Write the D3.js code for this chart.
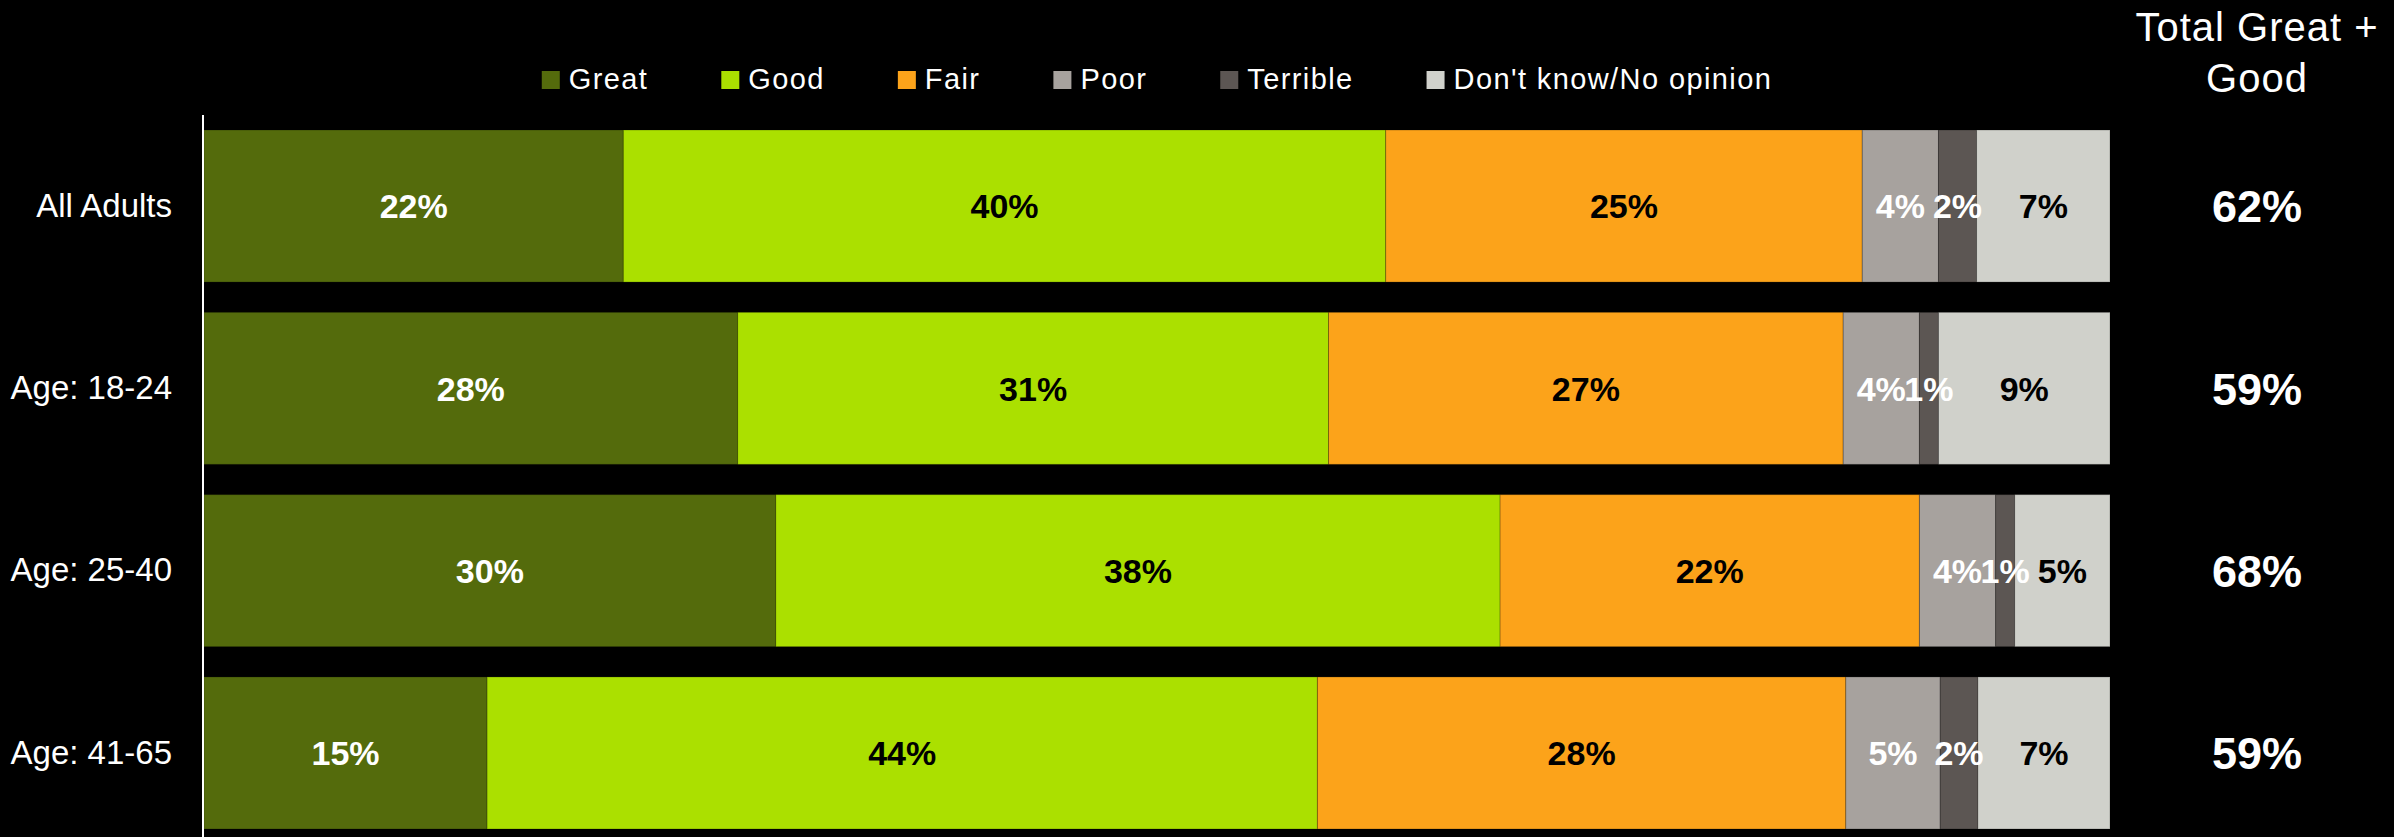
<!DOCTYPE html>
<html>
<head>
<meta charset="utf-8">
<script src="https://cdn.jsdelivr.net/npm/d3@7/dist/d3.min.js"></script>
<style>
  html, body { margin: 0; padding: 0; background: #000; }
  svg { display: block; }
  text { font-family: "Liberation Sans", Arial, sans-serif; }
</style>
</head>
<body>
<svg id="chart" width="2394" height="837"></svg>
<script>
// values (percent per group)
const groups   = ["All Adults", "Age: 18-24", "Age: 25-40", "Age: 41-65"];
const ratings  = ["Great", "Good", "Fair", "Poor", "Terrible", "Don't know/No opinion"];
const great    = [22, 28, 30, 15];
const good     = [40, 31, 38, 44];
const fair     = [25, 27, 22, 28];
const poor     = [4, 4, 4, 5];
const terrible = [2, 1, 1, 2];
const dontKnow = [7, 9, 5, 7];
const totalTitle = ["Total Great +", "Good"];

const colors     = ["#546b0c", "#abe000", "#fca31a", "#a7a29e", "#5c5653", "#d0d1cb"];
const textColors = ["#fff", "#000", "#000", "#fff", "#fff", "#000"];

const series = [great, good, fair, poor, terrible, dontKnow];
const rows = groups.map((g, i) => {
    let r = {group: g};
    ratings.forEach((k, j) => { r[k] = series[j][i]; });
    return r;
});

const width = 2394, height = 837;
const svg = d3.select("#chart");

const x = d3.scaleLinear().domain([0, 1]).range([204, 2110]);
const y = d3.scaleBand().domain(groups).range([130, 829])
    .paddingInner(0.166).paddingOuter(0);

// rows do not always add to exactly 100, so normalise like the source chart
const stacked = d3.stack().keys(ratings).offset(d3.stackOffsetExpand)(rows);

const layers = svg.append("g").selectAll("g")
    .data(stacked)
    .join("g")
    .attr("fill", (d, i) => colors[i]);

layers.selectAll("rect")
    .data(d => d)
    .join("rect")
    .attr("x", d => x(d[0]))
    .attr("y", d => y(d.data.group))
    .attr("width", d => x(d[1]) - x(d[0]))
    .attr("height", y.bandwidth())
    .attr("stroke", "rgba(0,0,0,0.22)")
    .attr("stroke-width", 1);

// value labels inside the segments
stacked.forEach((layer, i) => {
    svg.append("g").selectAll("text")
        .data(layer)
        .join("text")
        .attr("x", d => (x(d[0]) + x(d[1])) / 2)
        .attr("y", d => y(d.data.group) + y.bandwidth() / 2)
        .attr("dy", "0.36em")
        .attr("text-anchor", "middle")
        .attr("fill", textColors[i])
        .attr("font-size", 34)
        .attr("font-weight", "bold")
        .text(d => d.data[layer.key] + "%");
});

// category axis
const yAxis = svg.append("g")
    .attr("transform", "translate(203,0)")
    .call(d3.axisLeft(y).tickSize(0).tickPadding(31));
yAxis.select(".domain").remove();
yAxis.selectAll("text")
    .attr("fill", "#fff")
    .attr("font-size", 33)
    .attr("font-family", "Liberation Sans, Arial, sans-serif");

svg.append("line")
    .attr("x1", 203).attr("x2", 203)
    .attr("y1", 115).attr("y2", height)
    .attr("stroke", "#fff")
    .attr("stroke-width", 2);

// total Great + Good column
const totalX = 2257;
svg.append("text")
    .attr("x", totalX).attr("y", 0)
    .attr("text-anchor", "middle")
    .attr("fill", "#fff")
    .attr("font-size", 40)
    .attr("letter-spacing", 1)
    .selectAll("tspan")
    .data(totalTitle)
    .join("tspan")
    .attr("x", totalX)
    .attr("y", (d, i) => 41 + i * 51)
    .text(d => d);

svg.append("g").selectAll("text")
    .data(rows)
    .join("text")
    .attr("x", totalX)
    .attr("y", d => y(d.group) + y.bandwidth() / 2)
    .attr("dy", "0.36em")
    .attr("text-anchor", "middle")
    .attr("fill", "#fff")
    .attr("font-size", 45)
    .attr("font-weight", "bold")
    .text(d => (d.Great + d.Good) + "%");

// legend, centred over the bars
const legend = svg.append("g");
const items = legend.selectAll("g")
    .data(ratings)
    .join("g");
items.append("rect")
    .attr("y", 71)
    .attr("width", 18).attr("height", 18)
    .attr("fill", (d, i) => colors[i]);
items.append("text")
    .attr("x", 27)
    .attr("y", 89)
    .attr("fill", "#fff")
    .attr("font-size", 29)
    .attr("letter-spacing", 1.4)
    .text(d => d);

let pos = 0;
items.each(function() {
    const w = d3.select(this).select("text").node().getComputedTextLength();
    d3.select(this).attr("transform", "translate(" + pos + ",0)");
    pos += 27 + w + 73;
});
const legendWidth = pos - 73;
legend.attr("transform", "translate(" + ((x(0) + x(1)) / 2 - legendWidth / 2) + ",0)");
</script>
</body>
</html>
